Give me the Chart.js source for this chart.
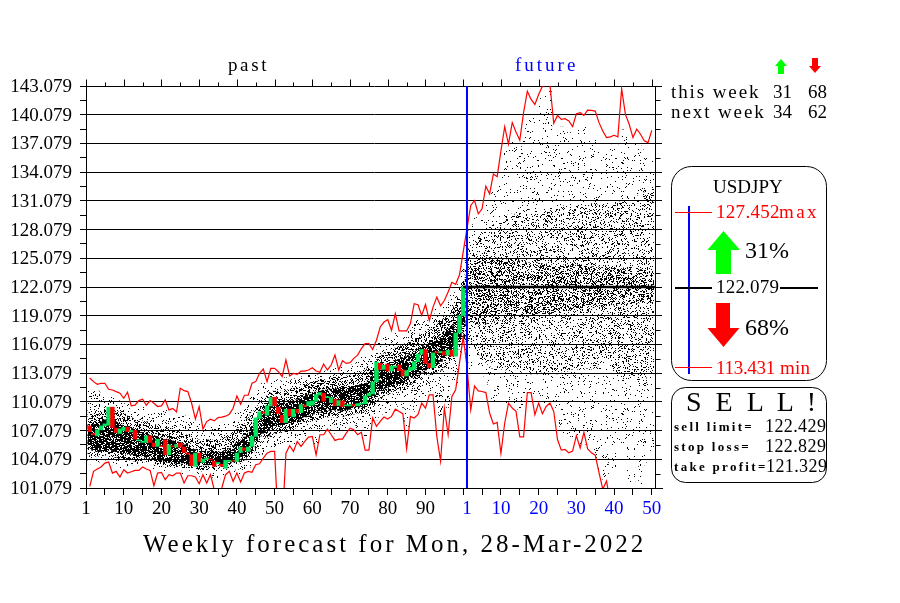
<!DOCTYPE html>
<html>
<head>
<meta charset="utf-8">
<title>USDJPY weekly forecast</title>
<script src="https://cdn.jsdelivr.net/npm/chart.js@4"></script>
<style>
  html, body { margin: 0; padding: 0; background: #fff; }
  #page { position: relative; width: 900px; height: 603px; overflow: hidden; }
  #page canvas, #page svg { position: absolute; left: 0; top: 0; }
  .t { position: absolute; white-space: pre; line-height: 1; color: #000; font-family: "Liberation Serif", serif; font-size: 19px; }
  .red { color: #f00; }
  .blue { color: #00f; }
  .w { letter-spacing: 1.9px; }
  .s { font-size: 13px; font-weight: bold; letter-spacing: 2.3px; }
  .n { font-size: 18px; letter-spacing: .4px; }
  .pct { font-size: 24px; }
</style>
</head>
<body>
<div id="page">
  <canvas id="chart" width="900" height="603"></canvas>
  <svg width="900" height="603">
    <polygon points="781,59 787,66 784,66 784,74 778,74 778,66 775,66" fill="#0f0"/>
    <polygon points="815,73 821,66 818,66 818,58 812,58 812,66 809,66" fill="#f00"/>
    <rect x="671.5" y="166.5" width="155" height="214" rx="20" fill="none" stroke="#000"/>
    <rect x="671.5" y="387.5" width="155" height="95" rx="14" fill="none" stroke="#000"/>
    <line x1="689" y1="206" x2="689" y2="374" stroke="#00f" stroke-width="2"/>
    <line x1="675" y1="212.5" x2="712" y2="212.5" stroke="#f00"/>
    <line x1="675" y1="367.5" x2="712" y2="367.5" stroke="#f00"/>
    <line x1="675" y1="288" x2="712" y2="288" stroke="#000" stroke-width="2"/>
    <line x1="780" y1="288" x2="818" y2="288" stroke="#000" stroke-width="2"/>
    <polygon points="723.5,231 740,250 731,250 731,274 716,274 716,250 707.5,250" fill="#0f0"/>
    <polygon points="723.5,347 739.5,328 730,328 730,303 716,303 716,328 707.5,328" fill="#f00"/>
  </svg>

  <span class="t" style="left:228px;top:55px;letter-spacing:2.6px">past</span>
  <span class="t blue" style="left:515px;top:55px;letter-spacing:3px">future</span>

  <span class="t w" style="left:671px;top:82px">this week</span>
  <span class="t" style="left:773px;top:82px">31</span>
  <span class="t" style="left:808px;top:82px">68</span>
  <span class="t w" style="left:671px;top:102px">next week</span>
  <span class="t" style="left:773px;top:102px">34</span>
  <span class="t" style="left:808px;top:102px">62</span>

  <span class="t" style="left:713px;top:177px">USDJPY</span>
  <span class="t red" style="left:716px;top:202px;letter-spacing:.3px">127.452</span>
  <span class="t red" style="left:779px;top:202px;letter-spacing:2.4px">max</span>
  <span class="t pct" style="left:745px;top:238px">31%</span>
  <span class="t" style="left:716px;top:277px;letter-spacing:.2px">122.079</span>
  <span class="t pct" style="left:745px;top:315px">68%</span>
  <span class="t red" style="left:716px;top:358px;letter-spacing:-.3px">113.431</span>
  <span class="t red" style="left:780px;top:358px;letter-spacing:.2px">min</span>

  <span class="t" style="left:686px;top:388px;font-size:28px;letter-spacing:3.5px">S E L L !</span>
  <span class="t s" style="left:674px;top:420px">sell limit=</span>
  <span class="t n" style="left:765px;top:417px">122.429</span>
  <span class="t s" style="left:674px;top:440px">stop loss=</span>
  <span class="t n" style="left:765px;top:437px">122.829</span>
  <span class="t s" style="left:674px;top:460px">take profit=</span>
  <span class="t n" style="left:766px;top:457px">121.329</span>

  <span class="t" style="left:143px;top:531px;font-size:25px;letter-spacing:3px">Weekly forecast for Mon, 28-Mar-2022</span>
</div>

<script>
// ===== 축 =====
const yTickValues = [101.079, 102.579, 104.079, 105.579, 107.079, 108.579, 110.079, 111.579, 113.079, 114.579,
  116.079, 117.579, 119.079, 120.579, 122.079, 123.579, 125.079, 126.579, 128.079, 129.579, 131.079, 132.579,
  134.079, 135.579, 137.079, 138.579, 140.079, 141.579, 143.079];
const yMajorLabels = ['101.079', '104.079', '107.079', '110.079', '113.079', '116.079', '119.079', '122.079',
  '125.079', '128.079', '131.079', '134.079', '137.079', '140.079', '143.079'];
const xTickValues = [0, 5, 10, 15, 20, 25, 30, 35, 40, 45, 50, 55, 60, 65, 70, 75, 80, 85, 90, 95, 100, 101,
  105, 110, 115, 120, 125, 130, 135, 140, 145, 150];
const xTickLabels = ['1', '', '10', '', '20', '', '30', '', '40', '', '50', '', '60', '', '70', '', '80', '', '90', '', '', '1',
  '', '10', '', '20', '', '30', '', '40', '', '50'];

// ===== 캔들 (1~100주) =====
const opens = [107.57, 106.77, 106.53, 107.16, 107.57, 107.64, 109.52, 107.33, 106.77, 107.09,
  107.43, 106.95, 107.09, 106.01, 105.84, 105.84, 106.53, 105.77, 105.42, 105.49,
  106.11, 104.55, 105.49, 105.35, 105.77, 105.35, 104.73, 104.55, 103.34, 104.73,
  103.75, 104.03, 104.10, 103.89, 103.61, 103.55, 103.13, 103.86, 103.96, 103.86,
  104.80, 105.28, 104.90, 105.42, 106.46, 108.34, 109.03, 108.68, 109.66, 110.56,
  109.52, 108.68, 107.92, 109.31, 108.51, 109.31, 108.96, 109.76, 109.66, 109.73,
  110.14, 110.80, 110.98, 110.52, 110.00, 110.35, 109.69, 110.18, 109.66, 109.66,
  109.80, 109.66, 109.84, 109.88, 110.71, 110.91, 112.16, 114.10, 113.47, 114.03,
  113.30, 113.68, 113.92, 113.41, 112.78, 113.34, 113.47, 114.27, 115.07, 115.55,
  114.10, 113.65, 115.31, 115.20, 115.34, 114.96, 115.48, 114.86, 117.28, 119.08];
const closes = [106.98, 106.64, 107.16, 107.57, 107.78, 109.52, 107.40, 106.88, 107.26, 107.43,
  106.98, 107.09, 106.18, 106.11, 105.94, 106.53, 105.84, 105.42, 106.18, 105.42,
  104.55, 105.59, 105.39, 105.63, 105.35, 104.80, 104.62, 103.41, 104.73, 103.82,
  104.10, 104.24, 104.03, 103.34, 103.75, 103.34, 103.96, 103.96, 103.89, 104.73,
  105.35, 105.00, 105.35, 106.46, 108.41, 109.03, 108.89, 109.66, 110.56, 109.66,
  108.86, 107.92, 109.31, 108.61, 109.31, 108.93, 109.80, 109.59, 110.11, 110.18,
  110.84, 111.05, 110.14, 110.63, 110.52, 109.69, 110.21, 109.59, 109.76, 109.80,
  109.66, 109.90, 109.95, 110.71, 110.98, 112.16, 114.24, 113.47, 113.89, 113.30,
  113.82, 113.82, 113.34, 112.78, 113.34, 113.68, 114.27, 115.07, 115.55, 114.10,
  113.65, 115.20, 115.17, 115.34, 114.96, 115.48, 114.86, 117.28, 119.08, 122.08];

// ===== 상단/하단 빨간선 (1~150주) =====
const upperLine = [112.57, 112.19, 111.91, 112.02, 112.02, 111.39, 111.32, 111.15, 110.98, 110.45,
  111.08, 109.66, 109.73, 110.21, 110.35, 109.73, 110.21, 109.93, 109.59, 109.66,
  110.28, 109.24, 109.38, 109.03, 111.50, 111.25, 111.15, 109.93, 108.30, 109.59,
  107.23, 108.02, 108.27, 108.09, 108.44, 108.48, 108.58, 108.79, 109.41, 110.70,
  109.83, 110.77, 110.77, 112.02, 112.19, 113.06, 113.51, 112.19, 113.58, 113.58,
  113.23, 112.71, 114.45, 112.78, 113.06, 112.95, 113.30, 113.30, 113.41, 113.65,
  113.30, 113.16, 114.03, 113.41, 113.93, 114.97, 113.41, 114.37, 114.10, 114.17,
  114.62, 114.96, 115.65, 116.17, 116.17, 115.55, 116.52, 117.90, 118.42, 118.66,
  117.56, 119.29, 117.49, 117.49, 117.49, 118.25, 120.33, 120.22, 119.11, 120.25,
  118.60, 119.98, 121.02, 120.12, 120.67, 121.55, 122.57, 122.36, 123.33, 125.75,
  128.18, 130.60, 131.12, 129.73, 130.25, 132.61, 131.81, 133.89, 133.61, 136.31,
  138.83, 137.00, 139.25, 138.28, 137.42, 140.29, 142.54, 141.67, 141.15, 142.19,
  143.06, 143.13, 143.20, 139.18, 140.01, 139.60, 139.66, 139.42, 138.83, 140.18,
  140.29, 140.01, 140.56, 140.53, 140.46, 139.25, 138.38, 137.69, 137.76, 137.93,
  137.76, 142.78, 140.11, 139.08, 137.69, 138.56, 138.04, 137.35, 137.17, 138.45];
const lowerLine = [101.25, 102.82, 103.06, 103.27, 103.68, 103.79, 102.64, 102.82, 102.23, 102.99,
  102.64, 102.78, 102.92, 102.92, 103.27, 103.06, 102.92, 101.32, 102.64, 102.71,
  101.95, 102.47, 102.36, 102.64, 102.64, 101.60, 102.36, 102.36, 102.23, 101.53,
  102.47, 101.60, 102.47, 100.90, 100.00, 101.08, 102.47, 102.82, 101.77, 102.64,
  101.70, 102.64, 102.82, 102.71, 103.51, 103.61, 104.20, 104.72, 104.90, 104.90,
  97.00, 97.00, 104.72, 105.49, 104.90, 105.94, 105.42, 105.94, 106.39, 106.46,
  104.55, 106.64, 106.64, 107.23, 106.64, 106.05, 106.18, 106.18, 106.81, 107.33,
  107.16, 106.64, 106.90, 105.03, 105.03, 108.39, 107.52, 108.04, 108.49, 108.28,
  108.56, 109.32, 109.08, 108.84, 105.17, 108.56, 108.39, 108.73, 109.95, 109.43,
  110.81, 110.81, 106.48, 103.89, 109.43, 106.66, 110.64, 111.33, 114.10, 116.87,
  113.75, 109.25, 111.74, 111.23, 111.16, 111.05, 108.91, 107.77, 107.94, 104.69,
  107.87, 109.95, 109.43, 109.08, 106.42, 106.42, 111.05, 111.05, 108.73, 109.95,
  108.84, 109.60, 109.95, 109.08, 106.14, 105.03, 105.10, 104.75, 104.93, 106.55,
  105.27, 106.90, 105.17, 104.75, 104.51, 102.68, 100.95, 101.81, 99.50, 97.00,
  97.00, 97.00, 97.00, 97.00, 97.00, 97.00, 97.00, 97.00, 97.00, 97.00];

// ===== 점 구름 범위 (1~150주): 바깥 / 중간 / 안쪽 =====
const outerHi = [111.5, 111.3, 111.2, 111.0, 111.0, 110.8, 110.6, 110.4, 110.2, 109.9,
  110.1, 109.2, 109.2, 109.6, 109.7, 109.1, 109.3, 109.2, 109.0, 108.9,
  109.3, 108.6, 108.6, 108.3, 108.9, 108.6, 108.5, 108.2, 107.7, 107.8,
  107.0, 107.4, 107.5, 107.6, 107.7, 107.8, 107.9, 108.1, 108.4, 108.9,
  109.2, 109.5, 110.0, 110.6, 111.1, 111.6, 112.0, 111.7, 112.3, 112.5,
  112.4, 112.2, 112.6, 112.3, 112.5, 112.4, 112.7, 112.8, 112.9, 113.0,
  112.9, 112.8, 113.3, 113.0, 113.3, 113.8, 113.0, 113.7, 113.6, 113.7,
  114.0, 114.3, 114.8, 115.2, 115.2, 115.1, 115.5, 116.3, 116.9, 117.0,
  116.8, 117.4, 116.9, 117.0, 117.0, 117.6, 118.4, 118.6, 118.5, 118.9,
  118.3, 119.0, 119.8, 119.6, 120.0, 120.6, 121.2, 121.5, 122.4, 124.2,
  126.5, 128.5, 129.5, 128.8, 129.2, 130.6, 130.5, 132.0, 132.5, 134.0,
  136.5, 136.4, 137.5, 137.0, 136.5, 137.5, 139.5, 140.0, 139.8, 141.0,
  142.0, 142.5, 142.5, 138.5, 138.8, 138.8, 138.6, 138.2, 137.6, 138.6,
  138.6, 138.8, 137.6, 137.6, 137.6, 137.4, 136.8, 136.6, 136.6, 137.0,
  136.9, 138.5, 138.0, 137.5, 136.6, 137.0, 136.8, 136.4, 136.3, 136.5];
const outerLo = [103.6, 103.7, 103.8, 103.8, 104.0, 104.1, 103.5, 103.5, 103.2, 103.6,
  103.4, 103.5, 103.5, 103.5, 103.7, 103.6, 103.5, 102.6, 103.2, 103.2,
  102.9, 103.0, 103.0, 103.2, 103.1, 102.5, 103.0, 102.9, 102.8, 102.3,
  102.9, 102.3, 102.9, 102.2, 102.0, 102.2, 102.9, 103.2, 102.6, 103.1,
  102.5, 103.1, 103.2, 103.3, 104.0, 104.1, 104.6, 105.1, 105.3, 105.4,
  105.2, 105.3, 105.3, 105.9, 105.5, 106.3, 105.9, 106.4, 106.8, 106.9,
  105.5, 107.0, 107.1, 107.6, 107.2, 106.8, 106.9, 107.0, 107.3, 107.8,
  107.7, 107.3, 107.6, 106.5, 106.8, 108.8, 108.2, 108.7, 109.0, 108.9,
  109.1, 109.8, 109.6, 109.5, 107.5, 109.3, 109.1, 109.5, 110.5, 110.2,
  111.1, 111.2, 109.5, 108.5, 110.2, 109.5, 111.2, 112.0, 114.2, 116.0,
  115.5, 113.5, 114.0, 113.5, 113.0, 112.5, 111.0, 110.0, 110.5, 110.0,
  110.0, 110.0, 110.0, 110.0, 109.0, 109.5, 110.8, 110.8, 110.0, 110.5,
  110.0, 110.0, 110.5, 110.0, 108.5, 107.5, 106.0, 106.5, 106.0, 106.5,
  105.6, 107.0, 105.5, 104.8, 104.0, 103.0, 102.0, 102.0, 104.5, 103.0,
  105.0, 105.5, 105.2, 101.5, 101.2, 105.0, 101.5, 103.5, 106.0, 105.0];
const midHi = [108.9, 109.0, 109.1, 109.2, 109.3, 109.4, 109.3, 109.2, 109.0, 108.8,
  108.6, 108.4, 108.3, 108.2, 108.1, 108.0, 107.8, 107.7, 107.6, 107.4,
  107.4, 107.3, 107.2, 107.0, 106.9, 106.7, 106.6, 106.4, 106.3, 106.1,
  106.0, 106.1, 106.0, 106.1, 106.1, 106.2, 106.3, 106.6, 106.9, 107.2,
  107.5, 107.8, 108.3, 108.9, 109.5, 110.0, 110.4, 110.7, 111.0, 111.2,
  111.2, 111.2, 111.3, 111.4, 111.5, 111.6, 111.7, 111.9, 112.0, 112.2,
  112.3, 112.4, 112.4, 112.5, 112.6, 112.7, 112.7, 112.8, 112.8, 112.9,
  113.0, 113.1, 113.2, 113.4, 113.7, 114.1, 114.5, 114.9, 115.1, 115.3,
  115.5, 115.7, 115.9, 116.0, 116.2, 116.4, 116.7, 116.9, 117.2, 117.4,
  117.6, 117.9, 118.2, 118.6, 118.9, 119.2, 119.7, 120.3, 121.2, 122.6,
  125.0, 126.2, 127.0, 127.6, 127.8, 128.2, 128.5, 128.6, 129.0, 129.3,
  129.5, 129.6, 129.7, 129.6, 129.8, 130.0, 130.2, 130.0, 130.1, 130.3,
  130.4, 130.2, 130.3, 130.5, 130.4, 130.6, 130.5, 130.4, 130.5, 130.7,
  130.8, 130.6, 130.7, 130.8, 130.9, 130.6, 130.4, 130.5, 130.6, 130.8,
  130.9, 131.0, 131.2, 131.4, 131.5, 131.6, 131.8, 131.9, 132.0, 132.0];
const midLo = [104.5, 104.4, 104.4, 104.4, 104.5, 104.5, 104.4, 104.3, 104.2, 104.1,
  104.0, 104.0, 103.9, 103.9, 103.9, 103.8, 103.8, 103.6, 103.6, 103.5,
  103.4, 103.4, 103.3, 103.3, 103.3, 103.2, 103.2, 103.2, 103.1, 103.0,
  103.0, 103.0, 103.0, 103.0, 103.0, 103.1, 103.2, 103.3, 103.4, 103.6,
  103.8, 104.0, 104.3, 104.7, 105.3, 105.8, 106.2, 106.4, 106.6, 106.8,
  106.9, 107.0, 107.1, 107.3, 107.3, 107.5, 107.7, 107.9, 108.0, 108.1,
  108.2, 108.3, 108.4, 108.5, 108.5, 108.5, 108.5, 108.6, 108.7, 108.7,
  108.8, 108.9, 109.0, 109.1, 109.4, 109.7, 110.2, 110.5, 110.7, 110.9,
  111.0, 111.2, 111.3, 111.5, 111.7, 111.9, 112.1, 112.3, 112.5, 112.7,
  112.9, 113.1, 113.2, 113.4, 113.7, 114.0, 114.4, 114.9, 115.6, 116.6,
  116.5, 116.0, 115.5, 115.0, 114.5, 114.2, 113.8, 113.6, 113.5, 113.5,
  113.4, 113.3, 113.3, 113.2, 113.2, 113.0, 113.1, 113.0, 113.1, 113.0,
  113.2, 113.0, 113.0, 113.1, 113.0, 113.2, 113.2, 113.3, 113.5, 113.5,
  113.4, 113.5, 113.6, 113.5, 113.8, 113.9, 114.0, 114.0, 113.8, 113.5,
  113.2, 112.8, 112.6, 112.5, 112.4, 112.2, 112.4, 112.5, 112.8, 113.0];
const coreHi = [107.6, 107.7, 107.8, 108.0, 108.2, 108.3, 108.2, 108.0, 107.8, 107.6,
  107.5, 107.3, 107.1, 107.0, 106.9, 106.8, 106.6, 106.5, 106.4, 106.3,
  106.2, 106.1, 106.0, 105.9, 105.8, 105.6, 105.4, 105.2, 105.1, 105.0,
  104.9, 104.9, 104.8, 104.8, 104.8, 104.9, 105.0, 105.2, 105.5, 105.8,
  106.1, 106.4, 106.8, 107.2, 108.0, 108.6, 109.0, 109.3, 109.6, 109.9,
  109.9, 109.9, 110.0, 110.1, 110.2, 110.3, 110.4, 110.6, 110.8, 111.0,
  111.1, 111.2, 111.3, 111.3, 111.4, 111.4, 111.5, 111.5, 111.6, 111.6,
  111.7, 111.8, 111.9, 112.0, 112.3, 112.7, 113.2, 113.6, 113.8, 114.0,
  114.2, 114.4, 114.5, 114.7, 114.8, 115.0, 115.3, 115.5, 115.8, 116.0,
  116.2, 116.5, 116.8, 117.0, 117.4, 117.7, 118.0, 118.6, 119.6, 120.8,
  124.0, 124.6, 125.0, 125.3, 125.4, 125.3, 125.2, 125.3, 125.1, 125.0,
  124.9, 124.8, 124.8, 124.7, 124.8, 124.8, 124.6, 124.6, 124.7, 124.6,
  124.5, 124.5, 124.4, 124.5, 124.5, 124.4, 124.4, 124.3, 124.3, 124.4,
  124.4, 124.3, 124.3, 124.2, 124.2, 124.2, 124.1, 124.1, 124.0, 124.0,
  124.0, 124.0, 124.1, 124.0, 124.0, 123.9, 123.9, 123.9, 123.8, 123.8];
const coreLo = [105.2, 105.0, 104.9, 104.9, 104.9, 105.0, 105.0, 104.9, 104.8, 104.7,
  104.6, 104.6, 104.5, 104.4, 104.4, 104.3, 104.2, 104.1, 104.1, 104.0,
  103.9, 103.8, 103.7, 103.7, 103.7, 103.7, 103.6, 103.6, 103.6, 103.5,
  103.5, 103.5, 103.5, 103.5, 103.5, 103.5, 103.6, 103.7, 103.8, 104.0,
  104.2, 104.5, 104.8, 105.3, 106.0, 106.5, 106.8, 107.0, 107.3, 107.6,
  107.6, 107.7, 107.8, 107.9, 108.0, 108.1, 108.3, 108.5, 108.7, 108.8,
  108.9, 109.0, 109.1, 109.2, 109.2, 109.2, 109.2, 109.2, 109.3, 109.3,
  109.4, 109.5, 109.6, 109.8, 110.0, 110.4, 110.9, 111.2, 111.5, 111.6,
  111.7, 111.9, 112.0, 112.2, 112.4, 112.6, 112.8, 113.0, 113.2, 113.4,
  113.6, 113.8, 114.0, 114.3, 114.6, 114.9, 115.3, 115.9, 116.8, 118.0,
  118.5, 118.4, 118.3, 118.2, 118.2, 118.3, 118.4, 118.5, 118.6, 118.6,
  118.7, 118.7, 118.8, 118.9, 118.9, 119.0, 119.0, 119.1, 119.1, 119.2,
  119.2, 119.3, 119.3, 119.4, 119.5, 119.5, 119.6, 119.6, 119.7, 119.8,
  119.8, 119.9, 119.9, 120.0, 120.0, 120.0, 120.1, 120.1, 120.1, 120.2,
  120.2, 120.2, 120.3, 120.3, 120.3, 120.4, 120.4, 120.4, 120.5, 120.5];

// 현재가 / 이번주 경계
const currentPrice = 122.079;
const nowWeek = 101;

// 점 구름 질감 (고정된 비트맵, 캔버스 원점 기준으로 이어짐)
function stipple(density, seed) {
    const size = 251;
    const tile = document.createElement('canvas');
    tile.width = size;
    tile.height = size;
    const g = tile.getContext('2d');
    const img = g.createImageData(size, size);
    let h = seed;
    for (let i = 0; i < size * size; i++) {
        h = Math.imul(h ^ (h >>> 15), 0x2c1b3c6d) + 0x6b43a9b5 | 0;
        const mixed = (h ^ (h >>> 13)) >>> 0;
        if (mixed % 1000 < density * 1000) img.data[i * 4 + 3] = 255;
    }
    g.putImageData(img, 0, 0);
    return document.createElement('canvas').getContext('2d').createPattern(tile, 'repeat');
}

const outerPast = stipple(0.1, 11);
const outerFuture = stipple(0.05, 17);
const midPast = stipple(0.3, 29);
const midFuture = stipple(0.13, 37);
const corePast = stipple(0.65, 47);
const coreFuture = stipple(0.24, 83);

function band(lo, hi) {
    return lo.map(function (v, i) { return { x: i + 1, y: [v, hi[i]] }; });
}

function bandSet(lo, hi, pastFill, futureFill, order) {
    return {
        type: 'bar', data: band(lo, hi), order: order,
        backgroundColor: function (ctx) { return ctx.dataIndex < 100 ? pastFill : futureFill; },
        grouped: false, barPercentage: 1, categoryPercentage: 1, borderWidth: 0
    };
}

function lineSet(points, color, width, order) {
    return { type: 'line', data: points, borderColor: color, borderWidth: width, pointRadius: 0, tension: 0, order: order };
}

const upperPoints = upperLine.map(function (v, i) { return { x: i + 1, y: v }; });
const lowerPoints = lowerLine.map(function (v, i) { return { x: i + 1, y: v }; });
const candles = opens.map(function (o, i) { return { x: i + 1, y: [o, closes[i]] }; });
const candleColors = opens.map(function (o, i) { return closes[i] >= o ? '#00e65c' : '#ff0000'; });

// 위쪽 눈금, 오른쪽 축
const framePlugin = {
    id: 'frame',
    afterDraw: function (chart) {
        const c = chart.ctx;
        const xs = chart.scales.x;
        const ys = chart.scales.y;
        const top = Math.round(ys.top) + 0.5;
        const rightX = Math.round(xs.getPixelForValue(150.8)) + 0.5;
        c.save();
        c.strokeStyle = '#000';
        c.lineWidth = 1;
        c.beginPath();
        xTickValues.forEach(function (v) {
            if (v === nowWeek) return;
            const px = Math.round(xs.getPixelForValue(v)) + 0.5;
            c.moveTo(px, top);
            c.lineTo(px, top - (v % 10 === 0 ? 7 : 4));
        });
        c.moveTo(rightX, ys.top);
        c.lineTo(rightX, ys.bottom);
        yTickValues.forEach(function (v, i) {
            if (i % 2 === 0) return;
            const py = Math.round(ys.getPixelForValue(v)) + 0.5;
            c.moveTo(rightX, py);
            c.lineTo(rightX + 5, py);
        });
        c.stroke();
        c.restore();
    }
};

new Chart(document.getElementById('chart'), {
    data: {
        datasets: [
            bandSet(outerLo, outerHi, outerPast, outerFuture, 7),
            bandSet(midLo, midHi, midPast, midFuture, 6),
            bandSet(coreLo, coreHi, corePast, coreFuture, 5),
            {
                type: 'bar', data: candles, backgroundColor: candleColors, order: 4,
                grouped: false, barPercentage: 1, categoryPercentage: 1, borderWidth: 0
            },
            lineSet([{ x: 100, y: currentPrice }, { x: 150.8, y: currentPrice }], '#000', 2.5, 3),
            lineSet(upperPoints, '#ff0000', 1.2, 2),
            lineSet(lowerPoints, '#ff0000', 1.2, 2),
            lineSet([{ x: nowWeek, y: 101.079 }, { x: nowWeek, y: 143.079 }], '#0000ff', 2, 1)
        ]
    },
    options: {
        responsive: false,
        animation: false,
        layout: { padding: { top: 86, right: 238, left: 0, bottom: 0 } },
        plugins: { legend: { display: false }, tooltip: { enabled: false } },
        scales: {
            x: {
                type: 'linear', min: 0, max: 152.7, offset: false,
                afterBuildTicks: function (s) { s.ticks = xTickValues.map(function (v) { return { value: v }; }); },
                afterFit: function (s) { s.height = 115; },
                border: { color: '#000' },
                grid: {
                    offset: false, drawOnChartArea: false, tickLength: 7,
                    tickColor: function (ctx) { return ctx.tick && ctx.tick.value === nowWeek ? 'transparent' : '#000'; }
                },
                ticks: {
                    autoSkip: false, maxRotation: 0, minRotation: 0, padding: 3,
                    font: { family: 'Liberation Serif', size: 19 },
                    color: function (ctx) { return ctx.tick && ctx.tick.value >= 100 ? '#0000ff' : '#000'; },
                    callback: function (v, i) { return xTickLabels[i]; }
                }
            },
            y: {
                type: 'linear', min: 101.079, max: 143.079,
                afterBuildTicks: function (s) { s.ticks = yTickValues.map(function (v) { return { value: v }; }); },
                afterFit: function (s) { s.width = 86; },
                border: { color: '#000' },
                grid: {
                    tickLength: 6, tickColor: '#000', lineWidth: 1,
                    color: function (ctx) { return ctx.index % 2 === 0 ? '#000' : 'transparent'; }
                },
                ticks: {
                    autoSkip: false, padding: 8, labelOffset: 1,
                    font: { family: 'Liberation Serif', size: 19 },
                    color: '#000',
                    callback: function (v, i) { return i % 2 === 0 ? yMajorLabels[i / 2] : ''; }
                }
            }
        }
    },
    plugins: [framePlugin]
});
</script>
</body>
</html>
